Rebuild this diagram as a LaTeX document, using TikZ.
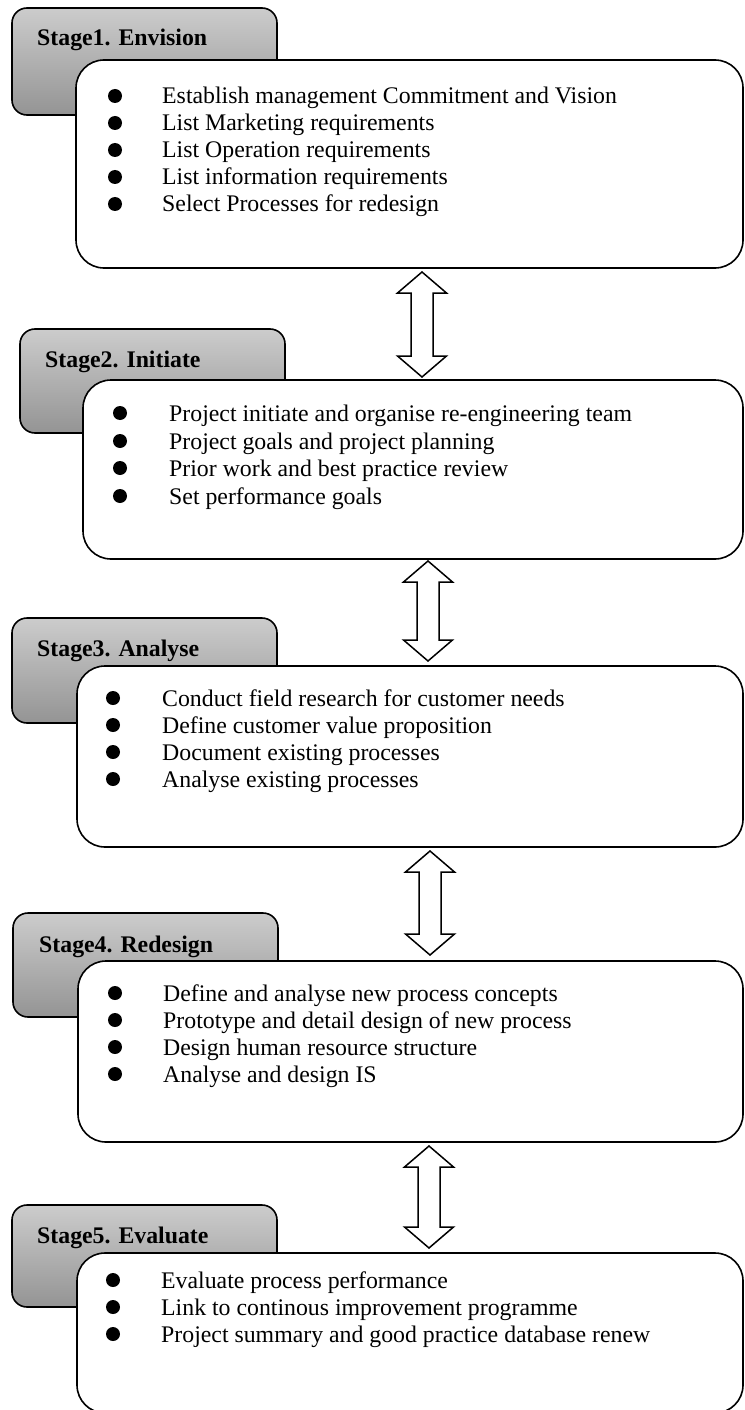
\documentclass[tikz,border=0pt]{standalone}
\usepackage{fontspec}
\setmainfont{Liberation Serif}
\usetikzlibrary{calc}
\tikzset{
  headbox/.style={draw, line width=1.6bp, rounded corners=15bp,
    top color=black!20, bottom color=black!42, anchor=north west,
    inner sep=0pt, outer sep=0pt},
  bodybox/.style={draw, line width=1.6bp, rounded corners=28bp, fill=white,
    anchor=north west, inner sep=0pt, outer sep=0pt},
  title/.style={anchor=base west, inner sep=0pt, font=\fontsize{23.8bp}{27bp}\selectfont\bfseries},
  item/.style={anchor=base west, inner sep=0pt, font=\fontsize{23.8bp}{27bp}\selectfont},
  dot/.style={circle, fill=black, inner sep=0pt, minimum size=14bp},
  dblarrow/.style={draw, line width=1.5bp, fill=white, line join=miter}
}
% #1 top tip coordinate, #2 bottom tip coordinate
\newcommand{\DblArrow}[2]{%
  \draw[dblarrow] (#1)
    -- ($(#1)+(24.5,21)$) -- ($(#1)+(11,21)$)
    -- ($(#2)+(11,-21)$) -- ($(#2)+(24.5,-21)$)
    -- (#2)
    -- ($(#2)+(-24.5,-21)$) -- ($(#2)+(-11,-21)$)
    -- ($(#1)+(-11,21)$) -- ($(#1)+(-24.5,21)$) -- cycle;}
\begin{document}
\begin{tikzpicture}[x=1bp,y=-1bp]
\useasboundingbox (0,0) rectangle (744,1410);
\clip (0,0) rectangle (744,1410);

% ---------- Stage 1
\node[headbox, minimum width=265bp, minimum height=107bp] (g1) at (12,8) {};
\node[title] (t1) at (37,46) {Stage1. Envision};
\node[bodybox, minimum width=667bp, minimum height=208bp] (w1) at (76,60) {};
\node[dot] (b11) at (115,96) {};  \node[item] (i11) at (162,104) {Establish management Commitment and Vision};
\node[dot] (b12) at (115,123) {}; \node[item] (i12) at (162,131) {List Marketing requirements};
\node[dot] (b13) at (115,150) {}; \node[item] (i13) at (162,158) {List Operation requirements};
\node[dot] (b14) at (115,177) {}; \node[item] (i14) at (162,185) {List information requirements};
\node[dot] (b15) at (115,204) {}; \node[item] (i15) at (162,212) {Select Processes for redesign};

% ---------- Stage 2
\node[headbox, minimum width=265bp, minimum height=104bp] (g2) at (20,329) {};
\node[title] (t2) at (45,367) {Stage2. Initiate};
\node[bodybox, minimum width=660bp, minimum height=179bp] (w2) at (83,380) {};
\node[dot] (b21) at (120,413) {}; \node[item] (i21) at (169,421) {Project initiate and organise re-engineering team};
\node[dot] (b22) at (120,441) {}; \node[item] (i22) at (169,449) {Project goals and project planning};
\node[dot] (b23) at (120,468) {}; \node[item] (i23) at (169,476) {Prior work and best practice review};
\node[dot] (b24) at (120,496) {}; \node[item] (i24) at (169,504) {Set performance goals};

% ---------- Stage 3
\node[headbox, minimum width=265bp, minimum height=105bp] (g3) at (12,618) {};
\node[title] (t3) at (37,656) {Stage3. Analyse};
\node[bodybox, minimum width=666bp, minimum height=181bp] (w3) at (77,666) {};
\node[dot] (b31) at (113,698) {}; \node[item] (i31) at (162,706) {Conduct field research for customer needs};
\node[dot] (b32) at (113,725) {}; \node[item] (i32) at (162,733) {Define customer value proposition};
\node[dot] (b33) at (113,752) {}; \node[item] (i33) at (162,760) {Document existing processes};
\node[dot] (b34) at (113,779) {}; \node[item] (i34) at (162,787) {Analyse existing processes};

% ---------- Stage 4
\node[headbox, minimum width=265bp, minimum height=104bp] (g4) at (13,913) {};
\node[title] (t4) at (39,952) {Stage4. Redesign};
\node[bodybox, minimum width=665bp, minimum height=181bp] (w4) at (78,961) {};
\node[dot] (b41) at (115,993) {};  \node[item] (i41) at (163,1001) {Define and analyse new process concepts};
\node[dot] (b42) at (115,1020) {}; \node[item] (i42) at (163,1028) {Prototype and detail design of new process};
\node[dot] (b43) at (115,1047) {}; \node[item] (i43) at (163,1055) {Design human resource structure};
\node[dot] (b44) at (115,1074) {}; \node[item] (i44) at (163,1082) {Analyse and design IS};

% ---------- Stage 5
\node[headbox, minimum width=265bp, minimum height=102bp] (g5) at (12,1205) {};
\node[title] (t5) at (37,1243) {Stage5. Evaluate};
\node[bodybox, minimum width=666bp, minimum height=160bp] (w5) at (77,1253) {};
\node[dot] (b51) at (113,1280) {}; \node[item] (i51) at (161,1288) {Evaluate process performance};
\node[dot] (b52) at (113,1307) {}; \node[item] (i52) at (161,1315) {Link to continous improvement programme};
\node[dot] (b53) at (113,1334) {}; \node[item] (i53) at (161,1342) {Project summary and good practice database renew};

% ---------- double arrows between stages
\coordinate (a1t) at (422,272);  \coordinate (a1b) at (422,377);
\coordinate (a2t) at (428,561);  \coordinate (a2b) at (428,661);
\coordinate (a3t) at (430,851);  \coordinate (a3b) at (430,955);
\coordinate (a4t) at (429,1146); \coordinate (a4b) at (429,1248);
\DblArrow{a1t}{a1b}
\DblArrow{a2t}{a2b}
\DblArrow{a3t}{a3b}
\DblArrow{a4t}{a4b}
\end{tikzpicture}
\end{document}
